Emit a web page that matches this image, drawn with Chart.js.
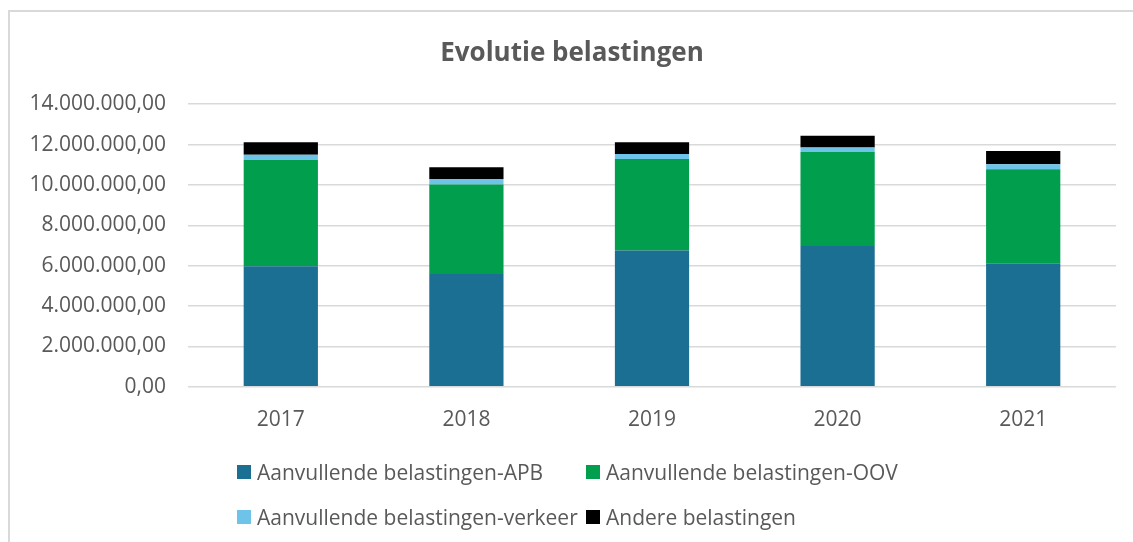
<!DOCTYPE html>
<html>
<head>
<meta charset="utf-8">
<script src="https://cdn.jsdelivr.net/npm/chart.js@4"></script>
<style>
  body { margin: 0; background: #fff; font-family: 'Open Sans', sans-serif; }
  #wrap { position: relative; width: 1133px; height: 542px; overflow: hidden; }
  #frame { position: absolute; left: 8px; top: 10px; width: 1200px; height: 600px; border: 2px solid #d9d9d9; box-sizing: border-box; }
  #chart { position: absolute; left: 0; top: 0; }
  #legend { position: absolute; left: 237px; top: 449px; display: grid; grid-template-columns: 349px auto; grid-auto-rows: 45px; }
  .item { display: flex; align-items: center; font-size: 21px; color: #595959; white-space: nowrap; }
  .box { width: 14px; height: 14px; margin-right: 6px; flex: none; }
</style>
</head>
<body>
<div id="wrap">
  <div id="frame"></div>
  <canvas id="chart" width="1133" height="542"></canvas>
  <div id="legend"></div>
</div>
<script>
const years = ['2017', '2018', '2019', '2020', '2021'];
const apb = [5970000, 5590000, 6750000, 6980000, 6090000];
const oov = [5260000, 4430000, 4530000, 4650000, 4690000];
const verkeer = [270000, 270000, 250000, 230000, 250000];
const andere = [620000, 590000, 590000, 580000, 650000];

const textColor = '#595959';

// 14000000 -> "14.000.000,00"
function fmt(v) {
  const s = Math.round(v).toString().replace(/\B(?=(\d{3})+(?!\d))/g, '.');
  return s + ',00';
}

const chart = new Chart(document.getElementById('chart'), {
  type: 'bar',
  data: {
    labels: years,
    datasets: [
      { label: 'Aanvullende belastingen-APB', data: apb, backgroundColor: '#1b6f93' },
      { label: 'Aanvullende belastingen-OOV', data: oov, backgroundColor: '#009e4d' },
      { label: 'Aanvullende belastingen-verkeer', data: verkeer, backgroundColor: '#6ec3e8' },
      { label: 'Andere belastingen', data: andere, backgroundColor: '#000000' }
    ]
  },
  options: {
    responsive: false,
    animation: false,
    layout: { padding: { left: 28, right: 17, top: 0, bottom: 88 } },
    datasets: { bar: { categoryPercentage: 0.8, barPercentage: 0.5 } },
    plugins: {
      legend: { display: false },
      tooltip: { enabled: false },
      title: {
        display: true,
        text: 'Evolutie belastingen',
        color: textColor,
        font: { family: 'Open Sans', size: 26, weight: 'bold' },
        padding: { top: 38, bottom: 35 }
      }
    },
    scales: {
      x: {
        stacked: true,
        grid: { display: false, drawTicks: false },
        border: { display: false },
        ticks: { color: textColor, font: { family: 'Open Sans', size: 21 }, padding: 21 }
      },
      y: {
        stacked: true,
        min: 0,
        max: 14000000,
        afterFit: s => { s.width = 160; },
        grid: { color: '#d9d9d9', lineWidth: 1.5, drawTicks: false },
        border: { display: false },
        ticks: {
          stepSize: 2000000,
          color: textColor,
          font: { family: 'Open Sans', size: 21 },
          padding: 22,
          callback: v => fmt(v)
        }
      }
    }
  }
});

const legend = document.getElementById('legend');
chart.data.datasets.forEach(ds => {
  const item = document.createElement('div');
  item.className = 'item';
  const box = document.createElement('span');
  box.className = 'box';
  box.style.background = ds.backgroundColor;
  item.appendChild(box);
  item.appendChild(document.createTextNode(ds.label));
  legend.appendChild(item);
});
</script>
</body>
</html>
